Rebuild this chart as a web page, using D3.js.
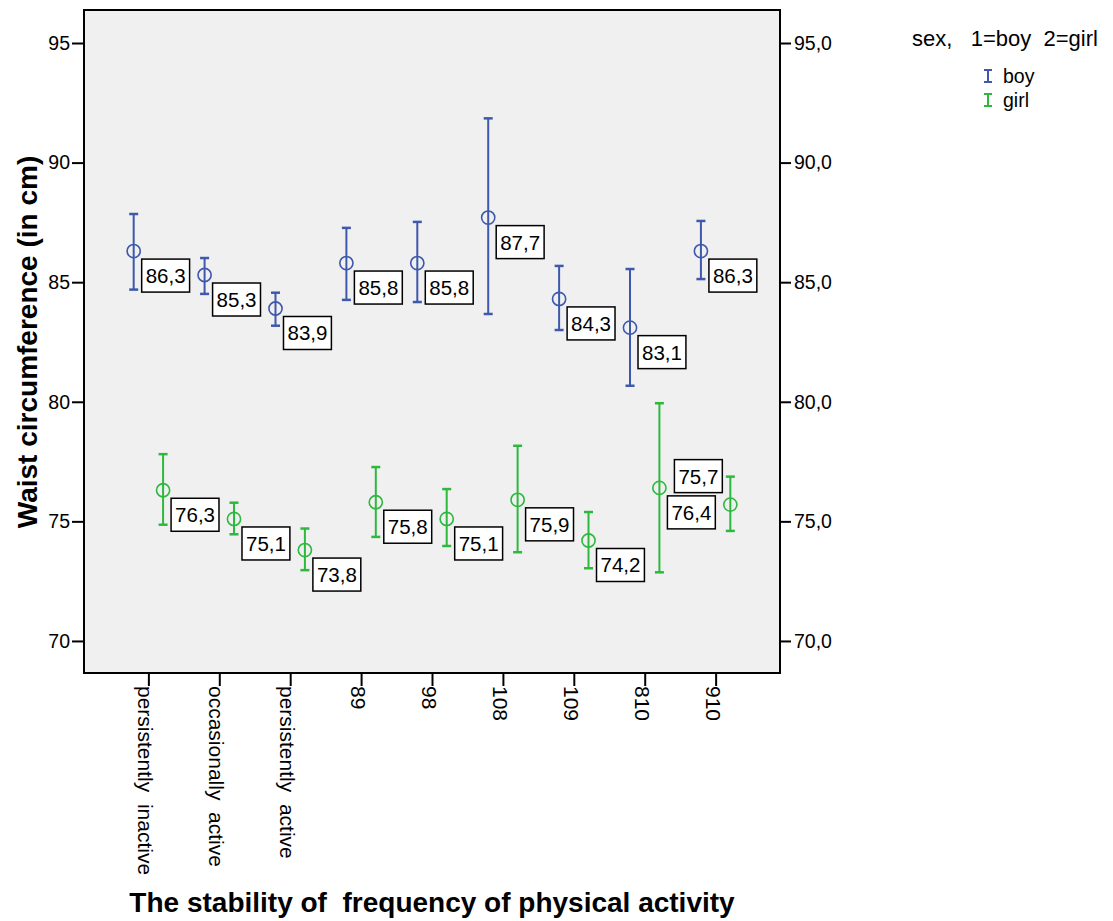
<!DOCTYPE html>
<html><head><meta charset="utf-8">
<script src="https://cdn.jsdelivr.net/npm/d3@7"></script>
<style>
body{margin:0;background:#fff;}
text{font-family:Arial,"Liberation Sans",sans-serif;}
</style></head>
<body><svg id="c" width="1113" height="921"></svg>
<script>
const categories = ["persistently  inactive","occasionally  active","persistently  active","89","98","108","109","810","910"];
const groups = ["boy","girl"];
const boyMean  = [86.3,85.3,83.9,85.8,85.8,87.7,84.3,83.1,86.3];
const boyLow   = [84.69,84.51,83.18,84.26,84.17,83.67,83.00,80.67,85.13];
const boyHigh  = [87.85,86.01,84.56,87.27,87.52,91.85,85.68,85.55,87.56];
const girlMean = [76.3,75.1,73.8,75.8,75.1,75.9,74.2,76.4,75.7];
const girlLow  = [74.86,74.46,72.96,74.35,73.97,73.71,73.04,72.87,74.60];
const girlHigh = [77.81,75.78,74.70,77.27,76.35,78.16,75.39,79.94,76.87];
const yTicks = [70,75,80,85,90,95];
const colors = {boy:"#3e58ac", girl:"#2db83e"};

const svg = d3.select("#c");
const L=84, R=780, T=10, B=673;
const x = d3.scalePoint().domain(categories).range([L,R]).padding(0.908);
const y = d3.scaleLinear().domain([68.66,96.38]).range([B,T]);
const off = d3.scalePoint().domain(groups).range([-14.7,14.7]);

svg.append("rect").attr("x",L).attr("y",T).attr("width",R-L).attr("height",B-T)
  .attr("fill","#f0f0f0").attr("stroke","none");

// axes
const yl = svg.append("g").attr("transform",`translate(${L},0)`)
  .call(d3.axisLeft(y).tickValues(yTicks).tickSize(12).tickPadding(2).tickFormat(d3.format("d")));
const yr = svg.append("g").attr("transform",`translate(${R},0)`)
  .call(d3.axisRight(y).tickValues(yTicks).tickSize(11).tickPadding(3).tickFormat(d=>d3.format(".1f")(d).replace(".",",")));
const xa = svg.append("g").attr("transform",`translate(0,${B})`)
  .call(d3.axisBottom(x).tickSize(13).tickPadding(0));
[yl,yr,xa].forEach(g=>{
  g.select(".domain").remove();
  g.selectAll(".tick line").attr("stroke","#000").attr("stroke-width",2);
  g.selectAll(".tick text").attr("fill","#000").style("font-size","19.5px");
});
xa.selectAll(".tick text")
  .attr("transform","translate(0,13) rotate(90)")
  .attr("x",0).attr("y",0).attr("dy","0.5em")
  .attr("text-anchor","start").style("font-size","21px").style("white-space","pre");

svg.append("rect").attr("x",L).attr("y",T).attr("width",R-L).attr("height",B-T)
  .attr("fill","none").attr("stroke","#000").attr("stroke-width",2);

// series
const series = [
  {g:"boy", mean:boyMean, low:boyLow, high:boyHigh},
  {g:"girl", mean:girlMean, low:girlLow, high:girlHigh}
];
const labelsLayer = svg.append("g");
series.forEach(s=>{
  const col = colors[s.g];
  const gg = svg.append("g");
  categories.forEach((c,i)=>{
    const cx = x(c)+off(s.g);
    gg.append("line").attr("x1",cx).attr("x2",cx).attr("y1",y(s.high[i])).attr("y2",y(s.low[i]))
      .attr("stroke",col).attr("stroke-width",2);
    [s.high[i],s.low[i]].forEach(v=>{
      gg.append("line").attr("x1",cx-4.5).attr("x2",cx+4.5).attr("y1",y(v)).attr("y2",y(v))
        .attr("stroke",col).attr("stroke-width",2.5);
    });
    gg.append("circle").attr("cx",cx).attr("cy",y(s.mean[i])).attr("r",6.6)
      .attr("fill","none").attr("stroke",col).attr("stroke-width",1.6);
  });
});
// labels
series.forEach(s=>{
  categories.forEach((c,i)=>{
    const cx = x(c)+off(s.g), cy = y(s.mean[i]);
    const g = labelsLayer.append("g");
    const txt = d3.format(".1f")(s.mean[i]).replace(".",",");
    const t = g.append("text").text(txt).style("font-size","20.5px").attr("fill","#000");
    const w = t.node().getComputedTextLength()+8, h = 33;
    let bx = cx+8, by = cy+8;
    if (bx+w > R-2) { bx = cx-8-w; by = cy-12-h; }
    g.insert("rect","text").attr("x",bx).attr("y",by).attr("width",w).attr("height",h)
      .attr("fill","#fff").attr("stroke","#000").attr("stroke-width",1.5);
    t.attr("x",bx+w/2).attr("y",by+h/2+7.5).attr("text-anchor","middle");
  });
});

// titles
svg.append("text").attr("transform","translate(37,342) rotate(-90)").attr("text-anchor","middle")
  .style("font-size","28px").style("font-weight","bold").text("Waist circumference (in cm)");
svg.append("text").attr("x",432).attr("y",912).attr("text-anchor","middle")
  .style("font-size","28px").style("font-weight","bold").style("white-space","pre")
  .text("The stability of  frequency of physical activity");

// legend
svg.append("text").attr("x",912).attr("y",46).style("font-size","22px").style("white-space","pre")
  .text("sex,   1=boy  2=girl");
groups.forEach((gname,i)=>{
  const cy = 76+i*24, col = colors[gname];
  const lg = svg.append("g");
  lg.append("line").attr("x1",988).attr("x2",988).attr("y1",cy-6).attr("y2",cy+6).attr("stroke",col).attr("stroke-width",2);
  [cy-6,cy+6].forEach(v=>lg.append("line").attr("x1",984).attr("x2",992).attr("y1",v).attr("y2",v).attr("stroke",col).attr("stroke-width",2));
  lg.append("text").attr("x",1003).attr("y",cy+7).style("font-size","19.5px").text(gname);
});
</script></body></html>
